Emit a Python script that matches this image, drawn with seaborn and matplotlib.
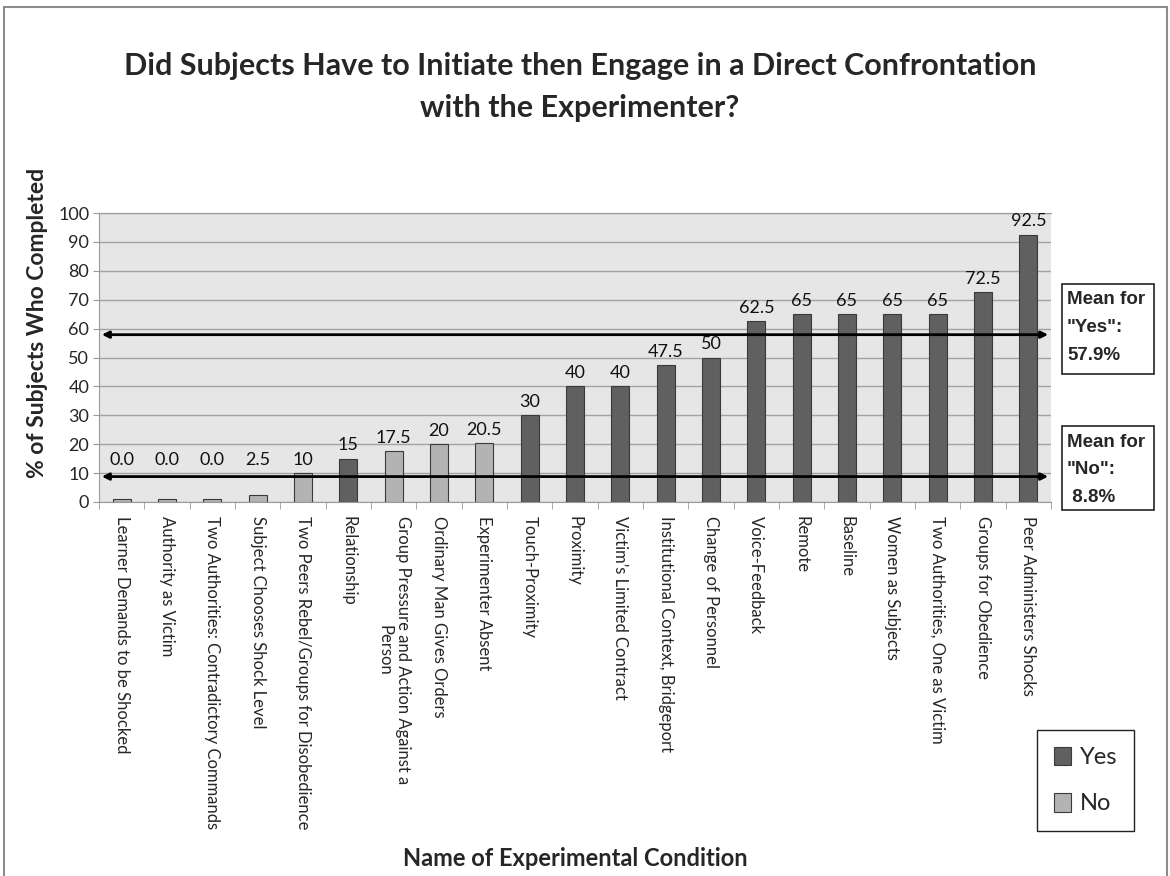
import numpy as np
import pandas as pd
import seaborn as sns
import matplotlib.pyplot as plt
from matplotlib.patches import Rectangle

# Data
conditions = [
    "Learner Demands to be Shocked",
    "Authority as Victim",
    "Two Authorities: Contradictory Commands",
    "Subject Chooses Shock Level",
    "Two Peers Rebel/Groups for Disobedience",
    "Relationship",
    "Group Pressure and Action Against a\nPerson",
    "Ordinary Man Gives Orders",
    "Experimenter Absent",
    "Touch-Proximity",
    "Proximity",
    "Victim\u2019s Limited Contract",
    "Institutional Context, Bridgeport",
    "Change of Personnel",
    "Voice-Feedback",
    "Remote",
    "Baseline",
    "Women as Subjects",
    "Two Authorities, One as Victim",
    "Groups for Obedience",
    "Peer Administers Shocks",
]
completed = [0.0, 0.0, 0.0, 2.5, 10, 15, 17.5, 20, 20.5, 30, 40, 40,
             47.5, 50, 62.5, 65, 65, 65, 65, 72.5, 92.5]
confrontation = ["No", "No", "No", "No", "No", "Yes", "No", "No", "No",
                 "Yes", "Yes", "Yes", "Yes", "Yes", "Yes", "Yes", "Yes",
                 "Yes", "Yes", "Yes", "Yes"]
value_labels = ["0.0", "0.0", "0.0", "2.5", "10", "15", "17.5", "20", "20.5",
                "30", "40", "40", "47.5", "50", "62.5", "65", "65", "65", "65",
                "72.5", "92.5"]
mean_yes = 57.9
mean_no = 8.8

W, H = 1170, 876

df = pd.DataFrame({
    "condition": conditions,
    "completed": completed,
    "confront": confrontation,
})
# the original draws 0 % bars as a thin sliver
df["drawn"] = np.maximum(df["completed"], 1.2)

sns.set_style("white")
plt.rcParams["font.family"] = ["Lato", "DejaVu Sans"]

fig = plt.figure(figsize=(W / 100, H / 100), dpi=100)
ax = fig.add_axes([99 / W, 1 - 502 / H, (1051 - 99) / W, (502 - 213) / H])

sns.barplot(data=df, x="condition", y="drawn", hue="confront",
            hue_order=["Yes", "No"],
            palette={"Yes": "#606060", "No": "#b3b3b3"},
            dodge=False, width=0.4, edgecolor="#3a3a3a", linewidth=0.8,
            ax=ax)

ax.set_facecolor("#e6e6e6")
ax.set_xlim(-0.5, len(conditions) - 0.5)
ax.set_ylim(0, 100)
ax.set_yticks(range(0, 101, 10))
ax.yaxis.grid(True, color="#a3a3a3", lw=1)
ax.set_axisbelow(True)
for side in ["left", "bottom", "top"]:
    ax.spines[side].set_color("#9a9a9a")
ax.spines["right"].set_visible(False)

ax.tick_params(axis="y", direction="out", length=4, color="#9a9a9a",
               labelsize=13, pad=3, left=True)
ax.set_xticks(np.arange(-0.5, len(conditions), 1), minor=True)
ax.tick_params(axis="x", which="minor", direction="out", length=5,
               color="#9a9a9a", bottom=True)
ax.tick_params(axis="x", which="major", length=0, pad=10, labelsize=12)
plt.setp(ax.get_xticklabels(), rotation=-90, ha="center", va="top",
         multialignment="center")

ax.set_xlabel("")
ax.set_ylabel("% of Subjects Who Completed", fontsize=16.5,
              fontweight="bold")
ax.yaxis.set_label_coords(-0.054, 0.62)

# value labels above the bars
for i, lab in enumerate(value_labels):
    ax.text(i, max(completed[i], 10) + 1.8, lab, ha="center", va="bottom",
            fontsize=13, color="#111111")

# mean arrows
for m in [mean_yes, mean_no]:
    ax.annotate("", xy=(0.003, m), xytext=(0.997, m),
                xycoords=("axes fraction", "data"),
                textcoords=("axes fraction", "data"),
                arrowprops=dict(arrowstyle="<|-|>", lw=2, color="black",
                                mutation_scale=10, shrinkA=0, shrinkB=0))

# legend
handles, labels = ax.get_legend_handles_labels()
ax.get_legend().remove()
leg = fig.legend(handles, labels, loc="upper left",
                 bbox_to_anchor=(1037 / W, 1 - 730 / H), borderaxespad=0,
                 frameon=True, fancybox=False, framealpha=1,
                 edgecolor="#222222", prop={"size": 17},
                 handlelength=0.75, handleheight=0.85, labelspacing=1.05,
                 borderpad=0.7, handletextpad=0.35)
leg.get_frame().set_linewidth(1)

# mean boxes
boxes = [
    (284, 374, ["Mean for", "\"Yes\":", "57.9%"]),
    (426, 510, ["Mean for", "\"No\":", " 8.8%"]),
]
for top, bottom, lines in boxes:
    fig.patches.append(Rectangle((1062 / W, 1 - bottom / H), 92 / W,
                                 (bottom - top) / H, fill=False,
                                 edgecolor="#222222", lw=1.2,
                                 transform=fig.transFigure))
    for k, line in enumerate(lines):
        fig.text(1067 / W, 1 - (top + 16 + 27.5 * k) / H, line,
                 family="Liberation Sans", fontweight="bold", fontsize=13.5,
                 ha="left", va="center")

# titles
fig.text(580 / W, 1 - 87 / H,
         "Did Subjects Have to Initiate then Engage in a Direct Confrontation\nwith the Experimenter?",
         ha="center", va="center", fontsize=22, fontweight="bold",
         linespacing=1.65)
fig.text(575 / W, 1 - 858 / H, "Name of Experimental Condition",
         ha="center", va="center", fontsize=17, fontweight="bold")

# outer chart border
fig.patches.append(Rectangle((4 / W, -0.05), 1163 / W, 1.05 - 7 / H,
                             fill=False, edgecolor="#8c8c8c", lw=1.5,
                             transform=fig.transFigure))

fig.savefig("out.png", dpi=100)
